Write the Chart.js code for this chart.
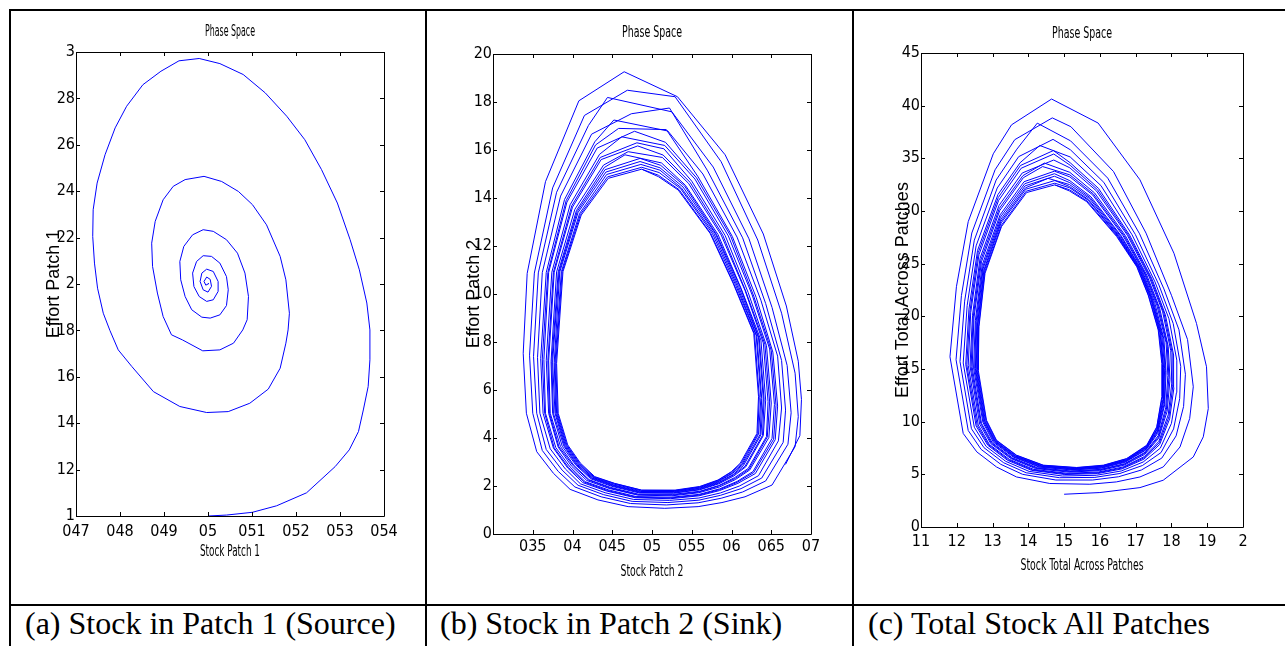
<!DOCTYPE html>
<html>
<head>
<meta charset="utf-8">
<script src="https://cdn.jsdelivr.net/npm/chart.js@4/dist/chart.umd.min.js"></script>
<style>
  html, body { margin: 0; padding: 0; background: #fff; }
  body { width: 1285px; height: 646px; position: relative; overflow: hidden; }
  canvas { position: absolute; left: 0; top: 0; }
  .rule { position: absolute; background: #000; }
  .cap {
    position: absolute; top: 603px; line-height: 40px; white-space: nowrap;
    font-family: "Liberation Serif", "Times New Roman", serif; font-size: 32px; color: #000;
  }
</style>
</head>
<body>
<div class="rule" style="left:9px;top:9px;width:1276px;height:2px"></div>
<div class="rule" style="left:9px;top:9px;width:2px;height:637px"></div>
<div class="rule" style="left:425px;top:9px;width:2px;height:637px"></div>
<div class="rule" style="left:852px;top:9px;width:2px;height:637px"></div>
<div class="rule" style="left:9px;top:604px;width:1276px;height:2px"></div>
<div class="cap" style="left:25px">(a) Stock in Patch 1 (Source)</div>
<div class="cap" style="left:440px">(b) Stock in Patch 2 (Sink)</div>
<div class="cap" style="left:868px">(c) Total Stock All Patches</div>

<canvas id="phase1" width="1285" height="646"></canvas>
<canvas id="phase2" width="1285" height="646"></canvas>
<canvas id="phase3" width="1285" height="646"></canvas>

<script>
/* ── data: (stock, effort) trajectories ─────────────────────────────── */

// (a) patch 1 — spiral into the equilibrium at (0.5, 2)
const orbitPatch1 = [
  [0.5000,1.000],[0.5042,1.004],[0.5101,1.016],[0.5156,1.044],[0.5224,1.100],[0.5289,1.213],
  [0.5321,1.285],[0.5342,1.364],[0.5353,1.457],[0.5364,1.558],[0.5368,1.673],[0.5368,1.802],
  [0.5361,1.918],[0.5344,2.061],[0.5323,2.191],[0.5294,2.349],[0.5258,2.493],[0.5220,2.622],
  [0.5179,2.723],[0.5130,2.824],[0.5080,2.903],[0.5027,2.950],[0.4980,2.972],[0.4934,2.962],
  [0.4893,2.917],[0.4852,2.859],[0.4815,2.766],[0.4789,2.673],[0.4766,2.557],[0.4748,2.435],
  [0.4739,2.320],[0.4738,2.205],[0.4742,2.090],[0.4749,1.982],[0.4762,1.874],[0.4777,1.800],
  [0.4796,1.716],[0.4827,1.644],[0.4876,1.536],[0.4936,1.472],[0.4997,1.446],[0.5046,1.450],
  [0.5095,1.486],[0.5137,1.547],[0.5164,1.637],[0.5177,1.745],[0.5182,1.802],[0.5185,1.874],
  [0.5177,2.018],[0.5164,2.119],[0.5133,2.255],[0.5101,2.342],[0.5069,2.399],[0.5031,2.442],
  [0.4991,2.464],[0.4948,2.450],[0.4921,2.421],[0.4898,2.363],[0.4880,2.270],[0.4872,2.176],
  [0.4874,2.076],[0.4885,1.961],[0.4898,1.860],[0.4917,1.781],[0.4942,1.759],[0.4988,1.712],
  [0.5027,1.716],[0.5058,1.745],[0.5079,1.802],[0.5089,1.846],[0.5092,1.946],[0.5084,2.047],
  [0.5067,2.133],[0.5042,2.191],[0.5012,2.227],[0.4989,2.234],[0.4965,2.212],[0.4945,2.162],
  [0.4936,2.097],[0.4938,2.018],[0.4948,1.946],[0.4963,1.889],[0.4986,1.857],[0.5005,1.853],
  [0.5027,1.867],[0.5042,1.907],[0.5046,1.975],[0.5042,2.032],[0.5027,2.090],[0.5008,2.119],
  [0.4989,2.122],[0.4974,2.097],[0.4965,2.047],[0.4968,1.989],[0.4980,1.946],[0.4997,1.925],
  [0.5012,1.932],[0.5023,1.968],[0.5023,2.011],[0.5012,2.054],[0.4997,2.064],[0.4986,2.047],
  [0.4982,2.011],[0.4989,1.975],[0.5000,1.965],[0.5008,1.990],[0.5005,2.020],[0.4997,2.030],
  [0.4991,2.011],[0.4995,1.995],[0.5000,2.000],[0.5001,2.004]
];

// (b) patch 2 — approach from the right, then loops shrinking onto a limit cycle (one row per loop)
const orbitPatch2 = [
  [0.668,2.90],[0.686,4.10],[0.688,5.60],[0.684,7.20],[0.669,9.50],[0.640,12.50],[0.592,15.80],[0.532,18.22],
  [0.465,19.26],[0.408,18.05],[0.366,14.68],[0.343,10.86],[0.338,7.53],[0.342,5.03],[0.355,3.43],[0.376,2.53],[0.397,1.86],[0.432,1.42],[0.470,1.14],[0.516,1.07],[0.558,1.14],[0.588,1.31],[0.617,1.55],[0.651,2.04],[0.680,3.64],[0.684,4.89],[0.680,6.70],[0.663,9.20],[0.633,12.25],[0.587,15.51],[0.529,18.22],
  [0.469,18.49],[0.415,17.44],[0.375,14.42],[0.352,10.87],[0.346,7.45],[0.350,5.03],[0.362,3.48],[0.382,2.61],[0.403,1.96],[0.436,1.55],[0.473,1.27],[0.518,1.21],[0.558,1.30],[0.587,1.49],[0.614,1.75],[0.643,2.21],[0.671,3.74],[0.675,5.05],[0.670,7.02],[0.651,9.44],[0.622,12.30],[0.577,15.29],[0.525,17.59],
  [0.444,18.19],[0.420,17.02],[0.380,14.24],[0.357,10.88],[0.351,7.40],[0.355,5.03],[0.367,3.52],[0.387,2.66],[0.407,2.03],[0.439,1.64],[0.475,1.36],[0.520,1.31],[0.559,1.41],[0.586,1.61],[0.612,1.89],[0.638,2.33],[0.665,3.82],[0.668,5.16],[0.663,7.23],[0.643,9.60],[0.614,12.34],[0.570,15.13],[0.522,17.75],
  [0.474,17.51],[0.424,16.66],[0.385,14.08],[0.362,10.89],[0.356,7.35],[0.359,5.03],[0.372,3.55],[0.391,2.71],[0.410,2.09],[0.441,1.72],[0.477,1.44],[0.522,1.40],[0.559,1.50],[0.586,1.71],[0.610,2.00],[0.634,2.43],[0.659,3.88],[0.663,5.25],[0.658,7.41],[0.637,9.74],[0.607,12.37],[0.564,15.00],[0.520,16.79],
  [0.452,17.25],[0.428,16.34],[0.390,13.94],[0.367,10.90],[0.360,7.31],[0.363,5.03],[0.376,3.58],[0.394,2.75],[0.413,2.14],[0.443,1.79],[0.479,1.51],[0.523,1.47],[0.559,1.59],[0.585,1.81],[0.608,2.11],[0.630,2.52],[0.655,3.93],[0.658,5.33],[0.652,7.58],[0.631,9.86],[0.601,12.40],[0.558,14.88],[0.518,16.85],
  [0.458,16.90],[0.429,16.21],[0.392,13.89],[0.369,10.90],[0.362,7.29],[0.365,5.03],[0.377,3.59],[0.395,2.77],[0.415,2.16],[0.444,1.81],[0.480,1.53],[0.523,1.50],[0.559,1.62],[0.585,1.85],[0.607,2.15],[0.628,2.56],[0.653,3.95],[0.656,5.36],[0.650,7.65],[0.628,9.91],[0.599,12.41],[0.556,14.84],[0.517,16.32],
  [0.478,16.78],[0.431,16.08],[0.393,13.83],[0.370,10.90],[0.364,7.27],[0.366,5.03],[0.379,3.60],[0.397,2.79],[0.416,2.18],[0.445,1.84],[0.480,1.56],[0.524,1.53],[0.559,1.65],[0.585,1.88],[0.607,2.19],[0.627,2.60],[0.651,3.98],[0.654,5.40],[0.648,7.71],[0.626,9.96],[0.596,12.42],[0.554,14.79],[0.516,16.19],
  [0.462,16.55],[0.434,15.82],[0.397,13.72],[0.374,10.91],[0.367,7.24],[0.370,5.03],[0.382,3.62],[0.399,2.82],[0.418,2.23],[0.446,1.90],[0.482,1.62],[0.525,1.59],[0.559,1.72],[0.585,1.96],[0.605,2.27],[0.623,2.67],[0.647,4.02],[0.650,5.46],[0.644,7.85],[0.621,10.06],[0.592,12.44],[0.550,14.70],[0.515,16.05],
  [0.481,16.30],[0.435,15.69],[0.399,13.67],[0.376,10.91],[0.369,7.22],[0.371,5.03],[0.383,3.63],[0.401,2.84],[0.420,2.25],[0.447,1.92],[0.482,1.64],[0.525,1.62],[0.559,1.75],[0.584,2.00],[0.605,2.32],[0.622,2.70],[0.645,4.04],[0.648,5.50],[0.642,7.91],[0.618,10.11],[0.589,12.45],[0.548,14.65],[0.514,15.79],
  [0.482,16.17],[0.436,15.60],[0.400,13.62],[0.377,10.91],[0.370,7.21],[0.372,5.03],[0.385,3.64],[0.402,2.85],[0.421,2.26],[0.448,1.94],[0.483,1.66],[0.526,1.65],[0.560,1.78],[0.584,2.02],[0.604,2.35],[0.621,2.73],[0.644,4.06],[0.646,5.52],[0.640,7.96],[0.617,10.15],[0.587,12.46],[0.546,14.61],[0.513,15.69],
  [0.470,15.93],[0.439,15.37],[0.403,13.53],[0.380,10.92],[0.373,7.18],[0.375,5.03],[0.387,3.66],[0.404,2.88],[0.423,2.30],[0.449,1.99],[0.484,1.71],[0.527,1.70],[0.560,1.84],[0.584,2.09],[0.603,2.42],[0.618,2.80],[0.640,4.10],[0.643,5.58],[0.637,8.08],[0.612,10.24],[0.583,12.48],[0.542,14.53],[0.512,15.46],
  [0.466,15.80],[0.440,15.27],[0.405,13.48],[0.382,10.92],[0.374,7.17],[0.376,5.03],[0.389,3.67],[0.405,2.89],[0.424,2.32],[0.450,2.01],[0.485,1.73],[0.527,1.72],[0.560,1.86],[0.584,2.12],[0.602,2.45],[0.617,2.82],[0.639,4.11],[0.641,5.60],[0.635,8.13],[0.611,10.28],[0.581,12.49],[0.541,14.50],[0.511,15.36],
  [0.485,15.65],[0.441,15.18],[0.406,13.44],[0.383,10.92],[0.375,7.16],[0.378,5.03],[0.390,3.68],[0.406,2.90],[0.425,2.33],[0.451,2.03],[0.485,1.75],[0.528,1.75],[0.560,1.89],[0.584,2.15],[0.602,2.48],[0.615,2.85],[0.637,4.13],[0.640,5.63],[0.634,8.18],[0.609,10.31],[0.580,12.50],[0.539,14.46],[0.510,15.26],
  [0.485,15.52],[0.442,15.08],[0.407,13.40],[0.384,10.92],[0.377,7.14],[0.379,5.03],[0.391,3.69],[0.407,2.92],[0.426,2.35],[0.451,2.05],[0.486,1.77],[0.528,1.77],[0.560,1.91],[0.583,2.17],[0.601,2.52],[0.614,2.88],[0.636,4.15],[0.638,5.65],[0.632,8.23],[0.607,10.35],[0.578,12.51],[0.537,14.42],[0.510,15.16],
  [0.486,15.40],[0.443,14.98],[0.409,13.36],[0.386,10.93],[0.378,7.13],[0.380,5.03],[0.392,3.70],[0.408,2.93],[0.426,2.36],[0.452,2.08],[0.486,1.80],[0.528,1.79],[0.560,1.94],[0.583,2.20],[0.601,2.55],[0.613,2.90],[0.634,4.16],[0.637,5.68],[0.631,8.28],[0.605,10.39],[0.576,12.52],[0.536,14.39],[0.509,15.06],
  [0.487,15.28],[0.444,14.88],[0.410,13.32],[0.387,10.93],[0.379,7.12],[0.381,5.03],[0.393,3.70],[0.409,2.94],[0.427,2.38],[0.453,2.10],[0.487,1.82],[0.529,1.81],[0.560,1.96],[0.583,2.23],[0.600,2.58],[0.612,2.93],[0.633,4.18],[0.635,5.70],[0.629,8.33],[0.603,10.42],[0.574,12.52],[0.534,14.35],[0.508,14.95],
  [0.487,15.20],[0.445,14.82],[0.411,13.29],[0.388,10.93],[0.380,7.11],[0.382,5.03],[0.394,3.71],[0.410,2.95],[0.428,2.39],[0.453,2.11],[0.487,1.83],[0.529,1.83],[0.560,1.98],[0.583,2.25],[0.600,2.60],[0.611,2.95],[0.632,4.19],[0.634,5.72],[0.628,8.36],[0.602,10.45],[0.573,12.53],[0.533,14.33],[0.508,14.89],[0.487,15.20]
];

// (c) total across patches — start tail, then shrinking loops (one row per loop)
const orbitTotal = [
  [1.500,3.11],[1.600,3.27],[1.712,3.74],[1.777,4.44],[1.861,6.65],[1.889,8.56],[1.903,11.25],[1.898,15.21],[1.870,19.33],[1.807,25.99],[1.712,32.96],[1.595,38.35],
  [1.465,40.63],[1.353,38.18],[1.302,35.43],[1.232,28.99],[1.199,22.81],[1.181,16.16],[1.218,8.88],[1.256,7.13],[1.311,5.70],[1.367,4.75],[1.460,4.13],[1.572,4.06],[1.646,4.28],[1.712,4.75],[1.777,5.70],[1.824,7.60],[1.851,10.30],[1.861,13.31],[1.845,17.80],[1.800,22.00],[1.729,27.90],[1.638,33.75],[1.519,38.00],
  [1.467,38.84],[1.362,36.77],[1.307,33.91],[1.242,27.91],[1.213,21.97],[1.198,15.88],[1.232,9.16],[1.268,7.37],[1.323,5.95],[1.384,5.00],[1.477,4.46],[1.580,4.46],[1.652,4.77],[1.716,5.41],[1.773,6.54],[1.813,8.65],[1.834,11.45],[1.839,14.50],[1.821,18.72],[1.779,22.60],[1.711,27.83],[1.622,33.12],[1.518,36.66],
  [1.425,38.34],[1.368,35.87],[1.310,32.94],[1.249,27.23],[1.222,21.44],[1.209,15.71],[1.241,9.33],[1.276,7.53],[1.331,6.10],[1.394,5.15],[1.487,4.68],[1.586,4.71],[1.656,5.08],[1.719,5.84],[1.771,7.07],[1.806,9.31],[1.823,12.18],[1.826,15.25],[1.805,19.31],[1.765,22.98],[1.699,27.78],[1.611,32.72],[1.518,35.80],
  [1.469,36.80],[1.373,35.16],[1.313,32.18],[1.254,26.69],[1.229,21.02],[1.218,15.57],[1.249,9.47],[1.282,7.65],[1.337,6.23],[1.402,5.28],[1.495,4.84],[1.590,4.91],[1.660,5.32],[1.721,6.17],[1.769,7.49],[1.800,9.84],[1.814,12.76],[1.815,15.84],[1.793,19.77],[1.754,23.27],[1.690,27.74],[1.603,32.41],[1.517,35.13],
  [1.432,36.22],[1.377,34.58],[1.315,31.56],[1.258,26.25],[1.234,20.68],[1.225,15.45],[1.254,9.59],[1.287,7.75],[1.342,6.33],[1.409,5.38],[1.502,4.98],[1.593,5.07],[1.662,5.52],[1.723,6.44],[1.767,7.83],[1.795,10.27],[1.807,13.23],[1.806,16.33],[1.783,20.15],[1.746,23.52],[1.683,27.72],[1.596,32.15],[1.517,34.58],
  [1.470,35.74],[1.378,34.32],[1.316,31.28],[1.260,26.05],[1.237,20.52],[1.228,15.40],[1.257,9.64],[1.289,7.80],[1.345,6.37],[1.412,5.42],[1.505,5.04],[1.595,5.15],[1.663,5.61],[1.723,6.56],[1.766,7.99],[1.793,10.46],[1.804,13.44],[1.802,16.54],[1.779,20.32],[1.742,23.63],[1.680,27.70],[1.593,32.03],[1.517,34.34],
  [1.471,35.41],[1.380,34.06],[1.317,31.01],[1.262,25.85],[1.239,20.37],[1.232,15.35],[1.260,9.69],[1.291,7.84],[1.347,6.42],[1.415,5.47],[1.508,5.10],[1.596,5.22],[1.665,5.70],[1.724,6.68],[1.765,8.14],[1.791,10.65],[1.801,13.65],[1.798,16.76],[1.775,20.49],[1.738,23.73],[1.677,27.69],[1.590,31.92],[1.516,34.10],
  [1.471,34.84],[1.383,33.61],[1.318,30.52],[1.265,25.51],[1.244,20.10],[1.237,15.27],[1.264,9.77],[1.295,7.92],[1.351,6.50],[1.420,5.55],[1.513,5.21],[1.599,5.35],[1.667,5.86],[1.725,6.89],[1.764,8.41],[1.788,10.98],[1.796,14.01],[1.791,17.14],[1.767,20.78],[1.731,23.92],[1.671,27.67],[1.585,31.72],[1.516,33.67],
  [1.445,34.55],[1.385,33.36],[1.319,30.25],[1.267,25.32],[1.246,19.95],[1.240,15.22],[1.267,9.83],[1.297,7.96],[1.353,6.54],[1.423,5.59],[1.516,5.27],[1.600,5.42],[1.668,5.95],[1.726,7.02],[1.764,8.56],[1.786,11.17],[1.793,14.22],[1.788,17.35],[1.763,20.95],[1.727,24.03],[1.668,27.65],[1.582,31.61],[1.516,33.43],
  [1.440,34.22],[1.386,33.16],[1.320,30.04],[1.269,25.17],[1.248,19.84],[1.243,15.18],[1.269,9.86],[1.299,8.00],[1.355,6.57],[1.426,5.62],[1.519,5.32],[1.602,5.47],[1.669,6.01],[1.727,7.11],[1.763,8.67],[1.784,11.31],[1.790,14.38],[1.785,17.51],[1.759,21.08],[1.724,24.11],[1.665,27.64],[1.580,31.52],[1.516,33.24],
  [1.473,33.78],[1.388,32.78],[1.321,29.63],[1.271,24.87],[1.252,19.61],[1.247,15.10],[1.273,9.94],[1.302,8.06],[1.358,6.64],[1.430,5.69],[1.523,5.41],[1.604,5.58],[1.670,6.14],[1.728,7.29],[1.762,8.90],[1.781,11.60],[1.785,14.69],[1.779,17.84],[1.753,21.33],[1.719,24.28],[1.660,27.62],[1.575,31.35],[1.516,32.88],
  [1.473,33.54],[1.390,32.59],[1.322,29.42],[1.273,24.73],[1.254,19.50],[1.250,15.06],[1.275,9.98],[1.304,8.10],[1.360,6.67],[1.432,5.72],[1.525,5.45],[1.605,5.63],[1.671,6.21],[1.729,7.38],[1.761,9.01],[1.780,11.74],[1.783,14.85],[1.776,18.00],[1.749,21.45],[1.716,24.36],[1.658,27.61],[1.573,31.26],[1.516,32.69],
  [1.473,33.30],[1.391,32.39],[1.323,29.21],[1.274,24.58],[1.256,19.38],[1.252,15.03],[1.277,10.01],[1.306,8.13],[1.361,6.71],[1.435,5.76],[1.528,5.50],[1.606,5.69],[1.672,6.28],[1.729,7.47],[1.761,9.13],[1.778,11.88],[1.781,15.01],[1.773,18.16],[1.746,21.58],[1.713,24.44],[1.655,27.60],[1.571,31.18],[1.515,32.51],
  [1.455,33.10],[1.392,32.20],[1.323,29.00],[1.276,24.43],[1.258,19.27],[1.254,14.99],[1.278,10.05],[1.307,8.16],[1.363,6.74],[1.437,5.79],[1.530,5.54],[1.607,5.74],[1.673,6.34],[1.730,7.56],[1.760,9.24],[1.777,12.03],[1.778,15.16],[1.770,18.32],[1.743,21.71],[1.710,24.52],[1.653,27.59],[1.568,31.09],[1.515,32.33],
  [1.474,32.89],[1.393,32.07],[1.324,28.87],[1.277,24.34],[1.259,19.19],[1.256,14.96],[1.280,10.08],[1.308,8.18],[1.364,6.76],[1.438,5.81],[1.531,5.57],[1.608,5.78],[1.674,6.39],[1.730,7.62],[1.760,9.32],[1.776,12.12],[1.777,15.27],[1.768,18.43],[1.741,21.79],[1.708,24.57],[1.651,27.59],[1.567,31.03],[1.515,32.21],
  [1.474,32.64],[1.394,31.88],[1.325,28.66],[1.278,24.19],[1.261,19.08],[1.258,14.93],[1.282,10.11],[1.310,8.22],[1.366,6.80],[1.441,5.85],[1.534,5.62],[1.609,5.83],[1.674,6.46],[1.731,7.71],[1.759,9.43],[1.774,12.26],[1.775,15.43],[1.765,18.59],[1.737,21.92],[1.705,24.66],[1.649,27.58],[1.564,30.95],[1.515,32.02],
  [1.474,32.48],[1.395,31.75],[1.325,28.52],[1.279,24.09],[1.262,19.00],[1.260,14.90],[1.283,10.14],[1.311,8.24],[1.367,6.82],[1.442,5.87],[1.535,5.65],[1.610,5.87],[1.675,6.50],[1.731,7.77],[1.759,9.51],[1.773,12.36],[1.773,15.53],[1.763,18.70],[1.735,22.00],[1.703,24.71],[1.647,27.57],[1.563,30.89],[1.515,31.90],[1.474,32.48]
];

// ticks and their printed labels (the figure drops the decimal points)
const ticksX1 = [0.47, 0.48, 0.49, 0.50, 0.51, 0.52, 0.53, 0.54];
const labelsX1 = ['047', '048', '049', '05', '051', '052', '053', '054'];
const ticksY1 = [1, 1.2, 1.4, 1.6, 1.8, 2, 2.2, 2.4, 2.6, 2.8, 3];
const labelsY1 = ['1', '12', '14', '16', '18', '2', '22', '24', '26', '28', '3'];

const ticksX2 = [0.3, 0.35, 0.4, 0.45, 0.5, 0.55, 0.6, 0.65, 0.7];
const labelsX2 = ['', '035', '04', '045', '05', '055', '06', '065', '07'];
const ticksY2 = [0, 2, 4, 6, 8, 10, 12, 14, 16, 18, 20];
const labelsY2 = ['0', '2', '4', '6', '8', '10', '12', '14', '16', '18', '20'];

const ticksX3 = [1.1, 1.2, 1.3, 1.4, 1.5, 1.6, 1.7, 1.8, 1.9, 2];
const labelsX3 = ['11', '12', '13', '14', '15', '16', '17', '18', '19', '2'];
const ticksY3 = [0, 5, 10, 15, 20, 25, 30, 35, 40, 45];
const labelsY3 = ['0', '5', '10', '15', '20', '25', '30', '35', '40', '45'];

/* ── drawing ────────────────────────────────────────────────────────── */
const PAGE_W = 1285, PAGE_H = 646;
const NARROW = '"Liberation Sans Narrow", "DejaVu Sans Condensed", "Liberation Sans", sans-serif';

// squeeze a label horizontally to a given width (the MATLAB export is very condensed)
function squeezedText(ctx, text, cx, cy, width) {
  const w = ctx.measureText(text).width;
  ctx.save();
  ctx.translate(cx, cy);
  ctx.scale(Math.min(1, width / w), 1);
  ctx.fillText(text, 0, 0);
  ctx.restore();
}

// MATLAB-style box: frame, inward ticks on all four sides, title + axis labels
const matlabAxes = {
  id: 'matlabAxes',
  afterDraw(chart, args, o) {
    const { ctx, chartArea: a, scales: { x, y } } = chart;
    ctx.save();
    ctx.strokeStyle = '#000';
    ctx.lineWidth = 1;
    ctx.beginPath();
    ctx.rect(a.left + 0.5, a.top + 0.5, a.right - a.left, a.bottom - a.top);
    const t = 4;
    x.ticks.forEach(tk => {
      const p = Math.round(x.getPixelForValue(tk.value)) + 0.5;
      ctx.moveTo(p, a.bottom); ctx.lineTo(p, a.bottom - t);
      ctx.moveTo(p, a.top);    ctx.lineTo(p, a.top + t);
    });
    y.ticks.forEach(tk => {
      const p = Math.round(y.getPixelForValue(tk.value)) + 0.5;
      ctx.moveTo(a.left, p);  ctx.lineTo(a.left + t, p);
      ctx.moveTo(a.right, p); ctx.lineTo(a.right - t, p);
    });
    ctx.stroke();

    const cx = (a.left + a.right) / 2;
    ctx.fillStyle = '#000';
    ctx.textAlign = 'center';
    ctx.textBaseline = 'middle';
    ctx.font = '16px ' + NARROW;
    squeezedText(ctx, o.title, cx, o.titleY, o.titleW);
    squeezedText(ctx, o.xTitle, cx, o.xTitleY, o.xTitleW);

    ctx.font = '18px "Liberation Sans", Arial, sans-serif';
    ctx.translate(o.yTitleX, (a.top + a.bottom) / 2);
    ctx.rotate(-Math.PI / 2);
    ctx.fillText(o.yTitle, 0, 0);
    ctx.restore();
  }
};

function axis(min, max, ticks, labels, pad, size, horizontal) {
  return {
    type: 'linear', min, max,
    afterBuildTicks: s => { s.ticks = ticks.map(v => ({ value: v })); },
    afterFit: s => { if (horizontal) s.height = size; else s.width = size; },
    grid: { display: false, drawTicks: false },
    border: { display: false },
    ticks: {
      padding: pad, color: '#000', autoSkip: false, maxRotation: 0,
      font: { family: NARROW, size: 16 },
      callback: (v, i) => labels[i]
    }
  };
}

function phasePlot(id, pts, area, xTicks, xLabels, yTicks, yLabels, ranges, deco) {
  const ctx = document.getElementById(id).getContext('2d');
  return new Chart(ctx, {
    type: 'scatter',
    data: {
      datasets: [{
        data: pts.map(([x, y]) => ({ x, y })),
        showLine: true,
        borderColor: '#0000ff',
        borderWidth: 1,
        pointRadius: 0,
        tension: 0,
        fill: false
      }]
    },
    options: {
      responsive: false,
      animation: false,
      events: [],
      layout: { padding: { left: 0, top: area.top, right: PAGE_W - area.right, bottom: 0 } },
      plugins: { legend: { display: false }, tooltip: { enabled: false }, matlabAxes: deco },
      scales: {
        x: axis(ranges[0], ranges[1], xTicks, xLabels, deco.xPad, PAGE_H - area.bottom, true),
        y: axis(ranges[2], ranges[3], yTicks, yLabels, 1, area.left, false)
      }
    },
    plugins: [matlabAxes]
  });
}

phasePlot('phase1', orbitPatch1, { left: 76, top: 52, right: 384, bottom: 516 },
  ticksX1, labelsX1, ticksY1, labelsY1, [0.47, 0.54, 1, 3],
  { title: 'Phase Space', titleY: 32, titleW: 50, xTitle: 'Stock Patch 1', xTitleY: 552, xTitleW: 60,
    yTitle: 'Effort Patch 1', yTitleX: 54, xPad: 6 });

phasePlot('phase2', orbitPatch2, { left: 493, top: 54, right: 811, bottom: 534 },
  ticksX2, labelsX2, ticksY2, labelsY2, [0.3, 0.7, 0, 20],
  { title: 'Phase Space', titleY: 33, titleW: 60, xTitle: 'Stock Patch 2', xTitleY: 572, xTitleW: 63,
    yTitle: 'Effort Patch 2', yTitleX: 474, xPad: 3 });

phasePlot('phase3', orbitTotal, { left: 921, top: 53, right: 1243, bottom: 527 },
  ticksX3, labelsX3, ticksY3, labelsY3, [1.1, 2, 0, 45],
  { title: 'Phase Space', titleY: 34, titleW: 60, xTitle: 'Stock Total Across Patches', xTitleY: 566, xTitleW: 123,
    yTitle: 'Effort Total Across Patches', yTitleX: 903, xPad: 5 });
</script>
</body>
</html>
